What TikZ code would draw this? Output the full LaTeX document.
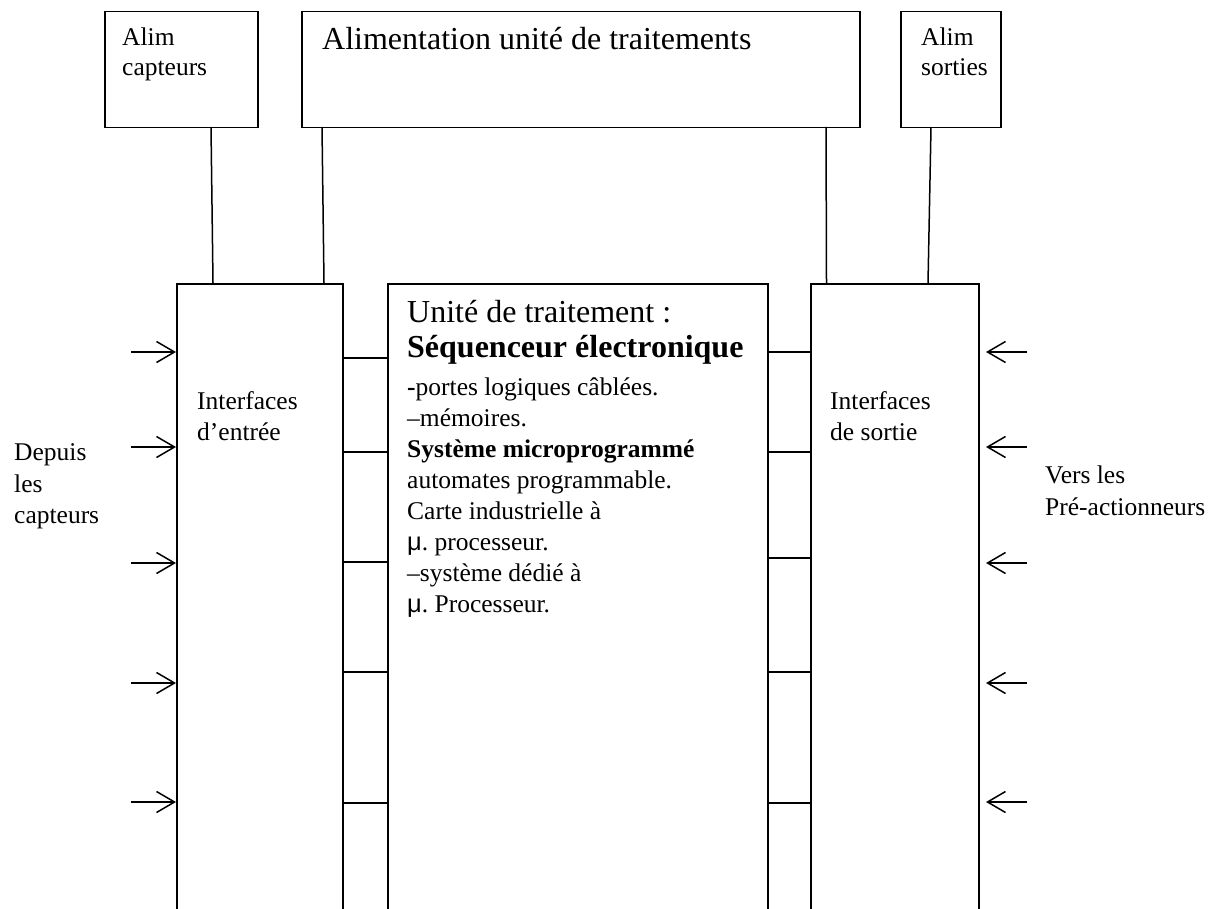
\documentclass[tikz,border=0pt]{standalone}
\usepackage{fontspec}
\setmainfont{Liberation Serif}
\newfontfamily\mufont{Liberation Sans}
\usetikzlibrary{arrows.meta}
\frenchspacing
\begin{document}
\begin{tikzpicture}[x=1pt,y=-1pt,
  box/.style={draw, line width=1.5pt, inner sep=0pt, anchor=north west},
  wire/.style={line width=1.5pt},
  sig/.style={line width=1.5pt, -{Straight Barb[length=18pt,width=21pt]}},
  txt/.style={anchor=base west, inner sep=0pt, font=\fontsize{25.5}{30}\selectfont},
  big/.style={anchor=base west, inner sep=0pt, font=\fontsize{32}{38}\selectfont},
  bigb/.style={anchor=base west, inner sep=0pt, font=\fontsize{32}{38}\selectfont\bfseries}]
\useasboundingbox (0,0) rectangle (1222,909);
\clip (0,0) rectangle (1222,909);
\fill[white] (0,0) rectangle (1222,909);

% top boxes
\node[box, minimum width=153pt, minimum height=116pt] (alimC) at (104,11) {};
\node[box, minimum width=558pt, minimum height=116pt] (alimU) at (301,11) {};
\node[box, minimum width=100pt, minimum height=116pt] (alimS) at (900,11) {};
% lower boxes (open at the bottom, beyond the page)
\node[box, minimum width=166pt, minimum height=660pt] (inIf) at (176,283) {};
\node[box, minimum width=380pt, minimum height=660pt] (cpu) at (387,283) {};
\node[box, minimum width=168pt, minimum height=660pt] (outIf) at (810,283) {};

% supply connectors
\coordinate (s1t) at (211,127); \coordinate (s1b) at (213,283);
\coordinate (s2t) at (322,127); \coordinate (s2b) at (324,283);
\coordinate (s3t) at (826,127); \coordinate (s3b) at (826.5,283);
\coordinate (s4t) at (931,127); \coordinate (s4b) at (928,283);
\draw[wire] (s1t) -- (s1b);
\draw[wire] (s2t) -- (s2b);
\draw[wire] (s3t) -- (s3b);
\draw[wire] (s4t) -- (s4b);

% links between boxes
\foreach \y in {358,452,562,672,803}
  \draw[wire] (inIf.east |- 0,\y) -- (cpu.west |- 0,\y);
\foreach \y in {352,452,558,672,803}
  \draw[wire] (cpu.east |- 0,\y) -- (outIf.west |- 0,\y);

% input arrows
\foreach \y in {352,447,563,683,802}
  \draw[sig] (131,\y) -- (inIf.west |- 0,\y);
% output-side arrows
\foreach \y in {352,447,563,683,802}
  \draw[sig] (1027,\y) -- (986,\y);

% texts in top boxes
\node[txt] (tAC1) at (122,46) {Alim};
\node[txt] (tAC2) at (122,76) {capteurs};
\node[big] (tAU) at (322,50) {Alimentation unité de traitements};
\node[txt] (tAS1) at (921,46) {Alim};
\node[txt] (tAS2) at (921,76) {sorties};

% interfaces
\node[txt] (tI1) at (197,409) {Interfaces};
\node[txt] (tI2) at (197,440) {d’entrée};
\node[txt] (tO1) at (830,409) {Interfaces};
\node[txt] (tO2) at (830,440) {de sortie};

% outside labels
\node[txt] (tD1) at (14,460) {Depuis};
\node[txt] (tD2) at (14,492) {les};
\node[txt] (tD3) at (14,523) {capteurs};
\node[txt] (tV1) at (1045,483) {Vers les};
\node[txt] (tV2) at (1045,515) {Pré-actionneurs};

% processing unit text
\node[big]  (u1) at (407,322) {Unité de traitement :};
\node[bigb] (u2) at (407,357) {Séquenceur électronique};
\node[txt]  (u3) at (407,395) {\textbf{-}portes logiques câblées.};
\node[txt]  (u4) at (407,426) {–mémoires.};
\node[txt]  (u5) at (407,457) {\textbf{Système microprogrammé}};
\node[txt]  (u6) at (407,488) {automates programmable.};
\node[txt]  (u7) at (407,519) {Carte industrielle à};
\node[txt]  (u8) at (407,550) {{\mufont μ}. processeur.};
\node[txt]  (u9) at (407,581) {–système dédié à};
\node[txt]  (u10) at (407,612) {{\mufont μ}. Processeur.};
\end{tikzpicture}
\end{document}
